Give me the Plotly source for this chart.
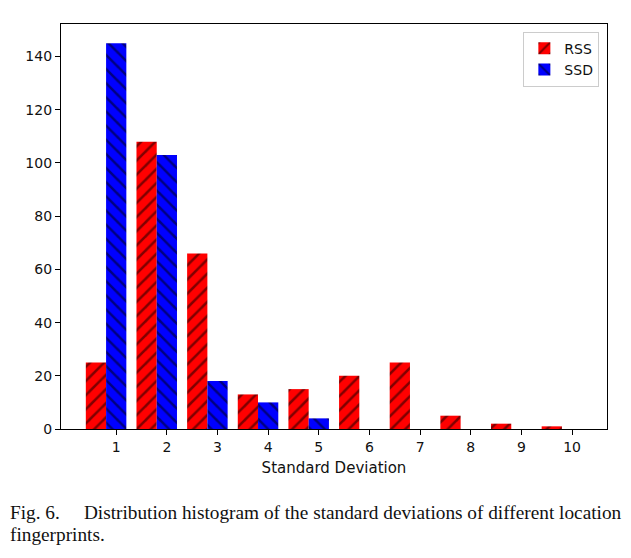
import plotly.graph_objects as go

categories = [1, 2, 3, 4, 5, 6, 7, 8, 9, 10]
rss_values = [25, 108, 66, 13, 15, 20, 25, 5, 2, 1]
ssd_values = [145, 103, 18, 10, 4, 0, 0, 0, 0, 0]
y_ticks = [0, 20, 40, 60, 80, 100, 120, 140]

fig = go.Figure()
fig.add_trace(go.Bar(
    x=categories, y=rss_values, name="RSS", width=0.4, offset=-0.6,
    marker=dict(color="#ff0000", line=dict(width=0),
                pattern=dict(shape="/", fgcolor="black", bgcolor="#ff0000", size=10, solidity=0.25)),
))
fig.add_trace(go.Bar(
    x=categories, y=ssd_values, name="SSD", width=0.4, offset=-0.2,
    marker=dict(color="#0000ff", line=dict(width=0),
                pattern=dict(shape="\\", fgcolor="black", bgcolor="#0000ff", size=10, solidity=0.25)),
))

axis_common = dict(
    showline=True, linecolor="black", linewidth=1.2, mirror=True,
    ticks="outside", ticklen=5, tickwidth=1, tickcolor="black",
    showgrid=False, zeroline=False,
    tickfont=dict(family="DejaVu Sans", size=14, color="#111111"),
)

fig.update_layout(
    width=623, height=550,
    margin=dict(l=53, r=24, t=16, b=129),
    plot_bgcolor="white", paper_bgcolor="white",
    barmode="overlay",
    font=dict(family="DejaVu Sans", size=14, color="#111111"),
    xaxis=dict(range=[-0.09, 10.69], tickmode="array", tickvals=categories,
               ticktext=[str(c) for c in categories],
               title=dict(text="Standard Deviation", font=dict(size=15), standoff=8),
               **axis_common),
    yaxis=dict(range=[0, 152.25], tickmode="array", tickvals=y_ticks,
               ticktext=[str(t) for t in y_ticks], **axis_common),
    legend=dict(x=0.986, y=0.981, xanchor="right", yanchor="top",
                bgcolor="rgba(255,255,255,0.8)", bordercolor="#cccccc", borderwidth=1,
                font=dict(size=14, family="DejaVu Sans"), itemwidth=30),
    showlegend=True,
    annotations=[
        dict(text="Fig. 6.\u00a0\u00a0\u00a0\u00a0\u00a0Distribution histogram of the standard deviations of different location",
             xref="paper", yref="paper", x=-0.0965, y=-0.2067, xanchor="left", yanchor="middle",
             showarrow=False, font=dict(family="Liberation Serif", size=19.3, color="#111111")),
        dict(text="fingerprints.",
             xref="paper", yref="paper", x=-0.0965, y=-0.261, xanchor="left", yanchor="middle",
             showarrow=False, font=dict(family="Liberation Serif", size=19.3, color="#111111")),
    ],
)

fig.write_html("out.html")
